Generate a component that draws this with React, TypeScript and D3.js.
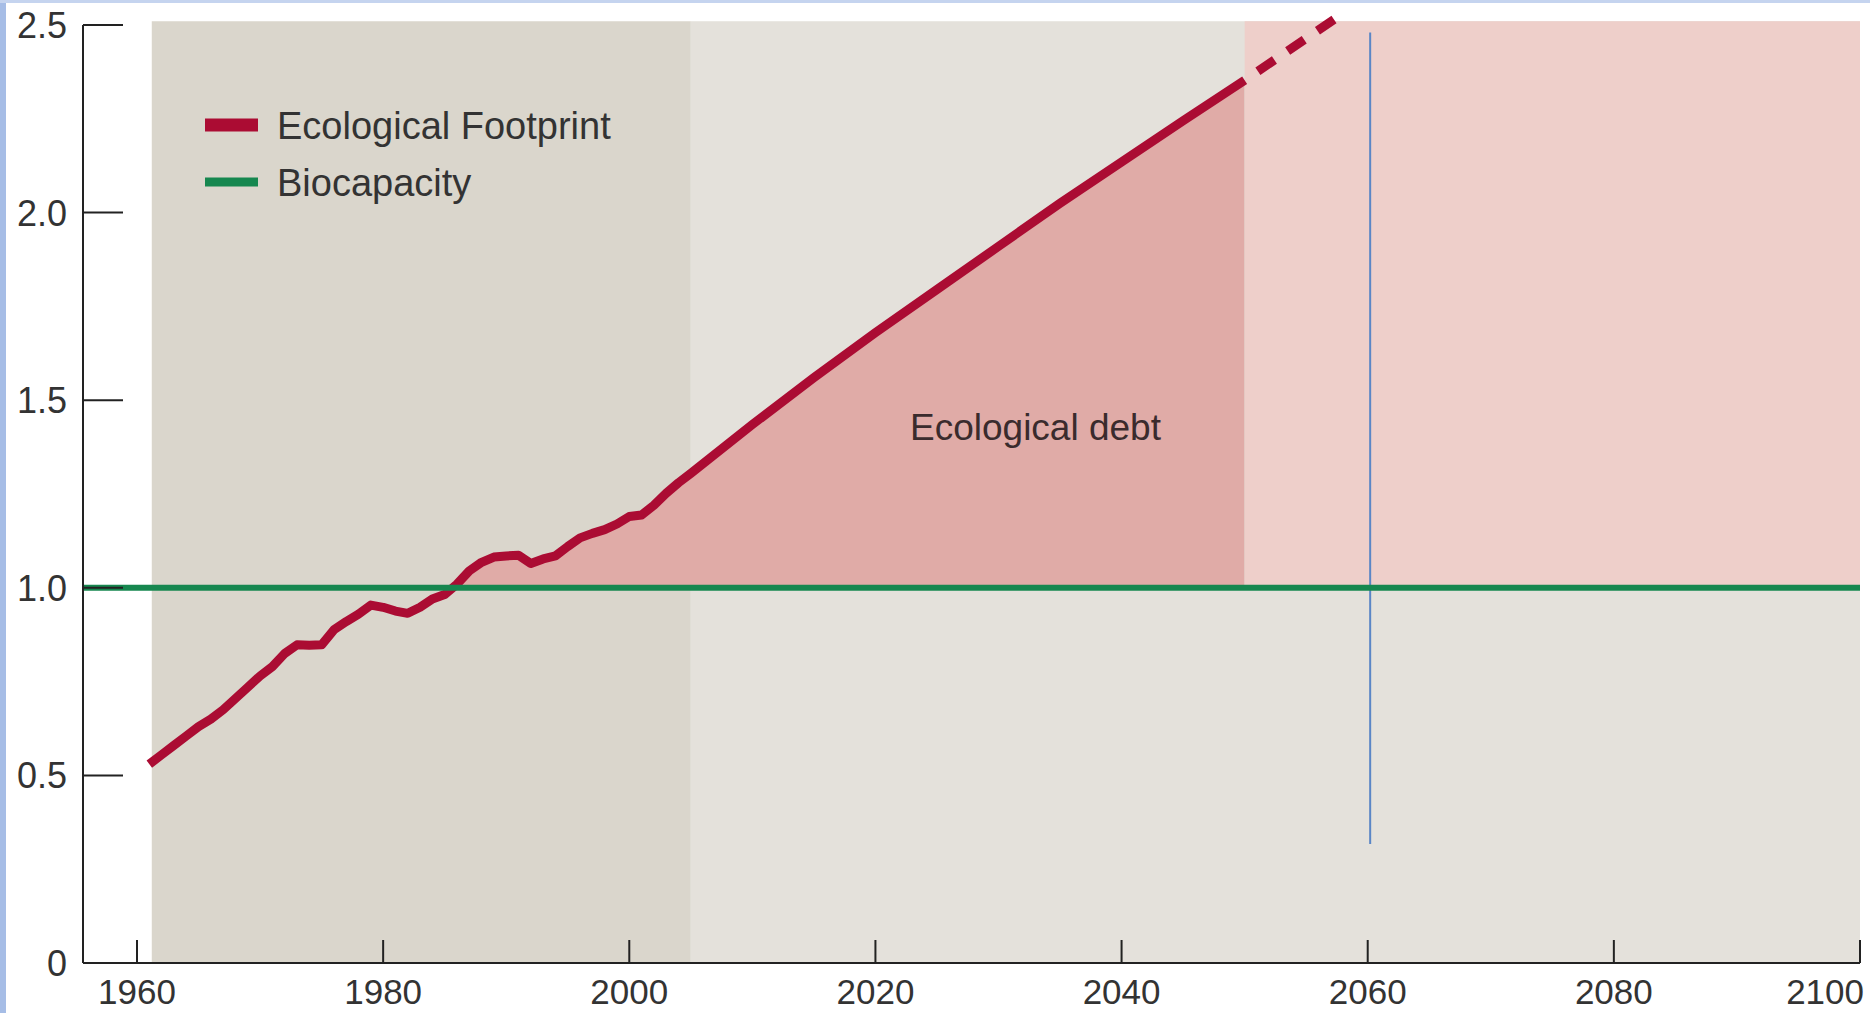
import React from 'react';
import * as d3 from 'd3';

// Ecological Footprint (number of planets), historical
const histYears = [
  1961, 1962, 1963, 1964, 1965, 1966, 1967, 1968, 1969, 1970,
  1971, 1972, 1973, 1974, 1975, 1976, 1977, 1978, 1979, 1980,
  1981, 1982, 1983, 1984, 1985, 1986, 1987, 1988, 1989, 1990,
  1991, 1992, 1993, 1994, 1995, 1996, 1997, 1998, 1999, 2000,
  2001, 2002, 2003, 2004,
];
const histFootprint = [
  0.53, 0.555, 0.58, 0.605, 0.63, 0.65, 0.675, 0.705, 0.735, 0.765,
  0.79, 0.825, 0.848, 0.847, 0.848, 0.888, 0.91, 0.93, 0.954, 0.948,
  0.938, 0.932, 0.948, 0.97, 0.982, 1.01, 1.045, 1.068, 1.082, 1.085,
  1.087, 1.065, 1.077, 1.085, 1.11, 1.133, 1.145, 1.155, 1.17, 1.19,
  1.194, 1.22, 1.252, 1.28,
];

// business-as-usual projection
const projYears = [2005, 2010, 2015, 2020, 2025, 2030, 2035, 2040, 2045, 2050];
const projFootprint = [1.305, 1.435, 1.56, 1.68, 1.795, 1.91, 2.025, 2.135, 2.245, 2.353];

// dashed continuation
const dashYears = [2050, 2057.5];
const dashFootprint = [2.353, 2.52];

const biocapacity = 1.0;

const xTicks = [1960, 1980, 2000, 2020, 2040, 2060, 2080, 2100];
const yTicks = [0, 0.5, 1.0, 1.5, 2.0, 2.5];
const yTickLabels = ['0', '0.5', '1.0', '1.5', '2.0', '2.5'];

// shaded periods
const historyPeriod = [1961.2, 2005];
const projectionPeriod = [2005, 2100];
const overshootPeriod = [2050, 2100];
const markerYear = 2060.2;
const markerRange = [0.317, 2.48];
const bgTop = 2.51;

const legendItems = [
  { label: 'Ecological Footprint', color: '#ab0c33', size: 13 },
  { label: 'Biocapacity', color: '#16874f', size: 9 },
];

const W = 1870;
const H = 1013;
const FONT = '"Liberation Sans", Arial, Helvetica, sans-serif';

const App: React.FC = () => {
  const x = d3.scaleLinear().domain([1960, 2100]).range([137, 1860]);
  const y = d3.scaleLinear().domain([0, 2.5]).range([963, 25]);
  const axisX = 83;

  const solid = [
    ...histYears.map((yr, i) => ({ yr, v: histFootprint[i] })),
    ...projYears.map((yr, i) => ({ yr, v: projFootprint[i] })),
  ];
  const dashed = dashYears.map((yr, i) => ({ yr, v: dashFootprint[i] }));

  const line = d3
    .line<{ yr: number; v: number }>()
    .x((d) => x(d.yr))
    .y((d) => y(d.v));

  const debtArea = d3
    .area<{ yr: number; v: number }>()
    .x((d) => x(d.yr))
    .y0(y(biocapacity))
    .y1((d) => y(d.v));

  return (
    <svg
      width={W}
      height={H}
      style={{ position: 'absolute', left: 0, top: 0, background: '#fff' }}
      fontFamily={FONT}
    >
      <defs>
        <clipPath id="debtClip">
          <rect x={x(1960)} y={0} width={x(overshootPeriod[0]) - x(1960)} height={y(biocapacity)} />
        </clipPath>
      </defs>

      {/* frame strips */}
      <rect x={0} y={0} width={6} height={H} fill="#a6bde6" />
      <rect x={0} y={0} width={W} height={3} fill="#c5d4ef" />

      {/* backgrounds */}
      <rect
        x={x(historyPeriod[0])}
        y={y(bgTop)}
        width={x(historyPeriod[1]) - x(historyPeriod[0])}
        height={y(0) - y(bgTop)}
        fill="#dad6cc"
      />
      <rect
        x={x(projectionPeriod[0])}
        y={y(bgTop)}
        width={x(projectionPeriod[1]) - x(projectionPeriod[0])}
        height={y(0) - y(bgTop)}
        fill="#e4e1db"
      />
      <rect
        x={x(overshootPeriod[0])}
        y={y(bgTop)}
        width={x(overshootPeriod[1]) - x(overshootPeriod[0])}
        height={y(biocapacity) - y(bgTop)}
        fill="#eecfca"
      />

      {/* ecological debt */}
      <path d={debtArea(solid) || ''} fill="#e0aba7" clipPath="url(#debtClip)" />
      <text x={910} y={440} fontSize={37} fill="#3a2b2d">
        Ecological debt
      </text>

      {/* 2060 marker */}
      <line
        x1={x(markerYear)}
        x2={x(markerYear)}
        y1={y(markerRange[1])}
        y2={y(markerRange[0])}
        stroke="#5a86c6"
        strokeWidth={2}
      />

      {/* footprint */}
      <path d={line(solid) || ''} fill="none" stroke="#ab0c33" strokeWidth={9} strokeLinejoin="round" />
      <path
        d={line(dashed) || ''}
        fill="none"
        stroke="#ab0c33"
        strokeWidth={9}
        strokeDasharray="20 16"
        strokeDashoffset={20}
      />

      {/* biocapacity */}
      <line
        x1={axisX}
        x2={x(2100)}
        y1={y(biocapacity)}
        y2={y(biocapacity)}
        stroke="#16874f"
        strokeWidth={6}
      />

      {/* axes */}
      <g stroke="#222" strokeWidth={2}>
        <line x1={axisX} x2={axisX} y1={y(0)} y2={y(2.5)} />
        <line x1={axisX} x2={x(2100)} y1={y(0)} y2={y(0)} />
        {yTicks.map((t) => (
          <line key={t} x1={axisX} x2={axisX + 40} y1={y(t)} y2={y(t)} />
        ))}
        {xTicks.map((t) => (
          <line key={t} x1={x(t)} x2={x(t)} y1={y(0)} y2={y(0) - 23} />
        ))}
      </g>
      {yTicks.map((t, i) => (
        <text
          key={t}
          x={67}
          y={y(t)}
          dy="0.36em"
          textAnchor="end"
          fontSize={36}
          fill="#333"
        >
          {yTickLabels[i]}
        </text>
      ))}
      {xTicks.map((t, i) => {
        const last = i === xTicks.length - 1;
        return (
          <text
            key={t}
            x={last ? 1864 : x(t)}
            y={1004}
            textAnchor={last ? 'end' : 'middle'}
            fontSize={35}
            fill="#333"
          >
            {t}
          </text>
        );
      })}

      {/* legend */}
      {legendItems.map((d, i) => (
        <g key={d.label} transform={`translate(205, ${125 + i * 57})`}>
          <rect x={0} y={-d.size / 2} width={53} height={d.size} fill={d.color} />
          <text x={72} y={0} dy="0.36em" fontSize={38} fill="#333">
            {d.label}
          </text>
        </g>
      ))}
    </svg>
  );
};

export default App;
